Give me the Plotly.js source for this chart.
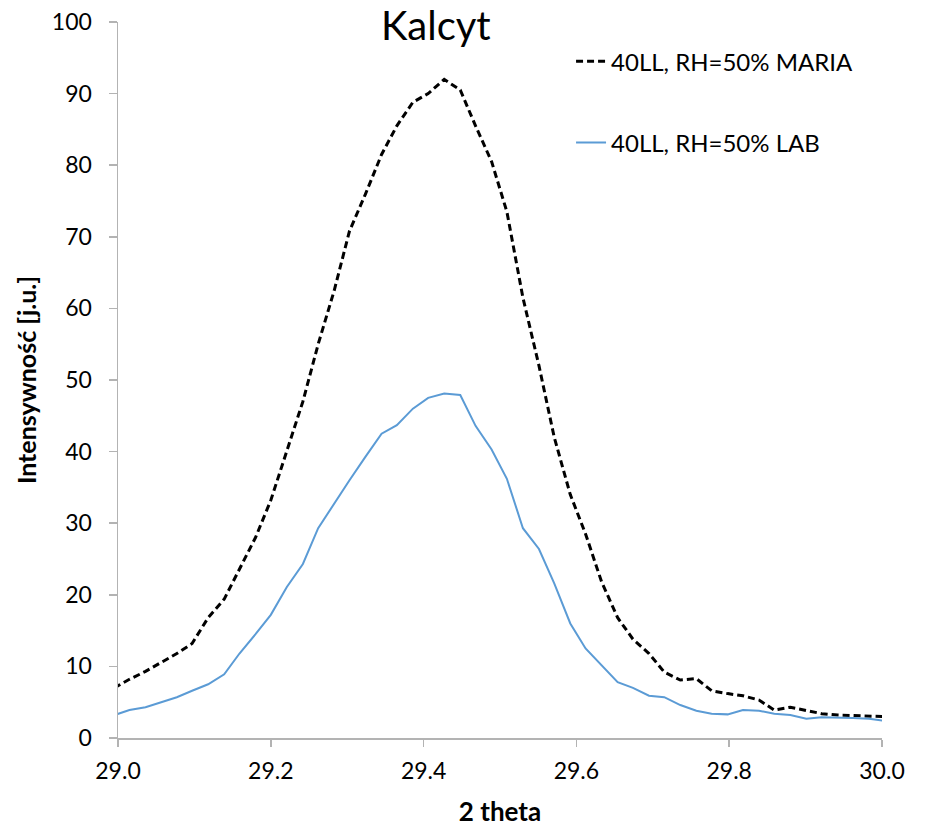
<!DOCTYPE html>
<html>
<head>
<meta charset="utf-8">
<script src="https://cdn.plot.ly/plotly-3.0.1.min.js"></script>
<style>html,body{margin:0;padding:0;background:#fff;}#chart{width:929px;height:827px;}</style>
</head>
<body>
<div id="chart"></div>
<script>
var twoTheta = [28.995, 29.015, 29.036, 29.056, 29.077, 29.097, 29.118, 29.139, 29.159, 29.180,
  29.200, 29.221, 29.242, 29.262, 29.283, 29.303, 29.324, 29.345, 29.365, 29.386,
  29.406, 29.427, 29.448, 29.468, 29.489, 29.509, 29.530, 29.551, 29.571, 29.592,
  29.612, 29.633, 29.654, 29.674, 29.695, 29.715, 29.736, 29.757, 29.777, 29.798,
  29.818, 29.839, 29.859, 29.880, 29.901, 29.921, 29.942, 29.962, 29.983, 30.003];

var mariaValues = [7.0, 8.2, 9.3, 10.5, 11.8, 13.2, 16.8, 19.4, 23.5, 28.0,
  33.2, 40.0, 47.0, 55.0, 62.5, 70.8, 76.0, 81.5, 85.5, 88.8,
  90.0, 92.0, 90.5, 85.5, 80.5, 73.5, 61.5, 52.0, 42.0, 34.0,
  28.5, 21.8, 16.8, 13.8, 11.8, 9.2, 8.1, 8.3, 6.6, 6.2,
  5.9, 5.3, 3.9, 4.3, 3.8, 3.4, 3.2, 3.1, 3.0, 3.0];

var labValues = [3.2, 3.9, 4.3, 5.0, 5.7, 6.6, 7.5, 8.9, 11.8, 14.5,
  17.2, 21.1, 24.3, 29.3, 32.8, 36.0, 39.3, 42.5, 43.7, 46.0,
  47.5, 48.1, 47.9, 43.6, 40.3, 36.2, 29.3, 26.4, 21.6, 16.0,
  12.5, 10.2, 7.8, 7.0, 5.9, 5.7, 4.6, 3.8, 3.4, 3.3,
  3.9, 3.8, 3.4, 3.2, 2.7, 2.9, 2.9, 2.8, 2.7, 2.4];

var seriesNames = ["40LL, RH=50% MARIA", "40LL, RH=50% LAB"];
var chartTitle = "Kalcyt";
var xTitle = "2 theta";
var yTitle = "Intensywność [j.u.]";

var FONT = "Lato, 'Open Sans', sans-serif";

var traces = [
  {
    x: twoTheta, y: mariaValues, type: "scatter", mode: "lines",
    name: seriesNames[0], legendgroup: "a",
    line: {color: "#000000", width: 3, dash: "7px,4px"}
  },
  {
    x: twoTheta, y: labValues, type: "scatter", mode: "lines",
    name: seriesNames[1], legendgroup: "b",
    line: {color: "#5B9BD5", width: 2}
  }
];

var layout = {
  width: 929, height: 827,
  margin: {l: 118, r: 47, t: 22, b: 89},
  paper_bgcolor: "#ffffff", plot_bgcolor: "#ffffff",
  font: {family: FONT, color: "#000000", size: 23},
  title: {
    text: chartTitle, font: {family: FONT, size: 40, color: "#000000"},
    xref: "paper", x: 0.416, xanchor: "center",
    yref: "container", y: 0.968, yanchor: "middle"
  },
  showlegend: true,
  legend: {
    x: 0.593, y: 0.976, xanchor: "left", yanchor: "top",
    bgcolor: "rgba(0,0,0,0)", borderwidth: 0,
    font: {family: FONT, size: 24, color: "#000000"},
    tracegroupgap: 47, itemwidth: 30
  },
  xaxis: {
    range: [29.0, 30.0], dtick: 0.2, tick0: 29.0, tickformat: ".1f",
    showgrid: false, zeroline: false,
    showline: true, linecolor: "#b3b3b3", linewidth: 1.5,
    ticks: "outside", ticklen: 7, tickcolor: "#b3b3b3", tickwidth: 1.5,
    ticklabelstandoff: 5,
    tickfont: {family: FONT, size: 23, color: "#000000"},
    title: {text: "<b>" + xTitle + "</b>", font: {family: FONT, size: 26, color: "#000000"}, standoff: 19}
  },
  yaxis: {
    range: [0, 100], dtick: 10,
    showgrid: false, zeroline: false,
    showline: true, linecolor: "#b3b3b3", linewidth: 1.5,
    ticks: "outside", ticklen: 8, tickcolor: "#b3b3b3", tickwidth: 1.5,
    ticklabelstandoff: 12,
    tickfont: {family: FONT, size: 23, color: "#000000"},
    title: {text: "<b>" + yTitle + "</b>", font: {family: FONT, size: 25, color: "#000000"}, standoff: 8}
  }
};

Plotly.newPlot("chart", traces, layout, {displayModeBar: false, staticPlot: true});
</script>
</body>
</html>
